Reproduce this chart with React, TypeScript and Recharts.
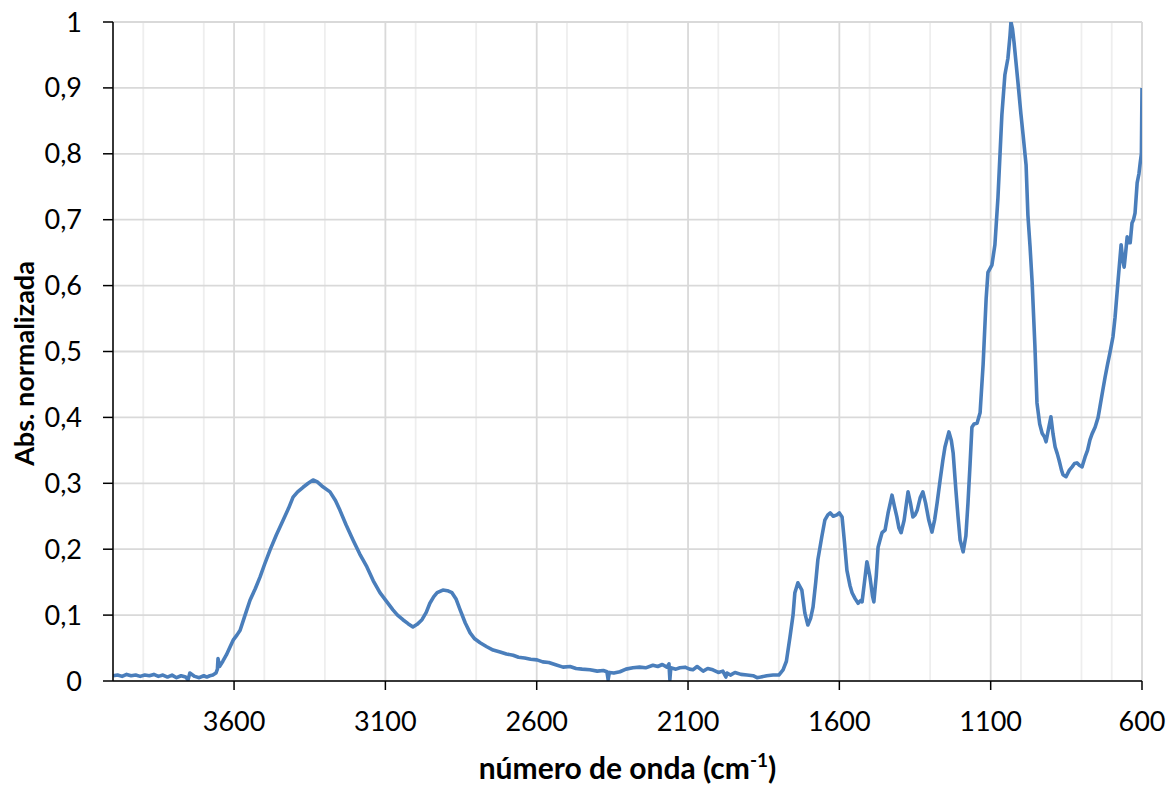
import React from 'react';
import { CartesianGrid, Label, Line, LineChart, XAxis, YAxis } from 'recharts';

// FTIR spectrum, wavenumber (cm-1) vs normalised absorbance
const wavenumbers = [
  4000, 3985, 3970, 3955, 3940, 3925, 3910, 3895, 3880, 3865, 3850, 3835, 3820, 3805, 3790, 3775,
  3760, 3752, 3746, 3730, 3715, 3700, 3690, 3680, 3670, 3660, 3655, 3653, 3648, 3637, 3625, 3613,
  3603, 3590, 3580, 3565, 3547, 3530, 3514, 3500, 3481, 3460, 3438, 3420, 3405, 3390, 3372, 3355,
  3339, 3325, 3310, 3283, 3265, 3250, 3230, 3207, 3185, 3161, 3140, 3118, 3095, 3075, 3060, 3042,
  3025, 3009, 2995, 2979, 2965, 2953, 2940, 2929, 2910, 2895, 2880, 2866, 2853, 2836, 2820, 2805,
  2787, 2765, 2744, 2721, 2700, 2678, 2660, 2640, 2620, 2599, 2580, 2560, 2540, 2513, 2490, 2470,
  2450, 2424, 2400, 2380, 2368, 2364, 2360, 2345, 2325, 2305, 2282, 2260, 2240, 2216, 2200, 2185,
  2170, 2163, 2160, 2157, 2140, 2127, 2110, 2095, 2084, 2070, 2050, 2035, 2018, 2000, 1985, 1975,
  1971, 1960, 1945, 1925, 1905, 1885, 1872, 1860, 1840, 1819, 1800, 1786, 1775, 1763, 1753, 1747,
  1737, 1724, 1714, 1704, 1695, 1687, 1678, 1671, 1658, 1648, 1638, 1630, 1620, 1608, 1600, 1591,
  1583, 1575, 1565, 1558, 1548, 1538, 1530, 1525, 1517, 1509, 1504, 1499, 1490, 1486, 1478, 1472,
  1465, 1459, 1449, 1439, 1426, 1418, 1410, 1403, 1396, 1386, 1373, 1365, 1357, 1350, 1343, 1333,
  1324, 1315, 1305, 1294, 1285, 1277, 1267, 1258, 1251, 1238, 1230, 1224, 1215, 1208, 1201, 1191,
  1182, 1175, 1168, 1162, 1155, 1145, 1135, 1125, 1115, 1109, 1096, 1086, 1076, 1063, 1053, 1043,
  1036, 1033, 1028, 1023, 1010, 1000, 993, 983, 977, 970, 963, 954, 947, 938, 930, 922,
  917, 910, 901, 894, 887, 880, 874, 866, 861, 851, 840, 831, 823, 815, 806, 798,
  788, 780, 772, 765, 755, 745, 739, 730, 722, 714, 706, 696, 689, 679, 669, 664,
  659, 654, 649, 644, 639, 633, 628, 623, 616, 610, 606, 602, 601, 600
];

const absorbance = [
  0.008, 0.009, 0.007, 0.010, 0.008, 0.009, 0.007, 0.009, 0.008, 0.010, 0.007, 0.009, 0.006, 0.009, 0.005, 0.008,
  0.006, 0.002, 0.012, 0.007, 0.005, 0.008, 0.006, 0.008, 0.009, 0.012, 0.018, 0.034, 0.022, 0.030, 0.040, 0.052,
  0.062, 0.070, 0.077, 0.098, 0.123, 0.140, 0.158, 0.176, 0.199, 0.222, 0.244, 0.262, 0.279, 0.287, 0.294, 0.300,
  0.305, 0.302, 0.296, 0.287, 0.274, 0.259, 0.237, 0.214, 0.193, 0.173, 0.152, 0.134, 0.120, 0.108, 0.100, 0.093,
  0.087, 0.082, 0.086, 0.093, 0.104, 0.118, 0.128, 0.134, 0.138, 0.137, 0.134, 0.124, 0.108, 0.088, 0.073, 0.064,
  0.058, 0.052, 0.047, 0.044, 0.041, 0.039, 0.036, 0.035, 0.033, 0.032, 0.029, 0.028, 0.025, 0.021, 0.022, 0.019,
  0.018, 0.017, 0.015, 0.016, 0.014, 0.002, 0.013, 0.012, 0.014, 0.018, 0.020, 0.021, 0.020, 0.024, 0.022, 0.025,
  0.021, 0.026, 0.002, 0.020, 0.018, 0.020, 0.021, 0.018, 0.017, 0.022, 0.015, 0.019, 0.017, 0.013, 0.015, 0.006,
  0.012, 0.009, 0.013, 0.010, 0.009, 0.008, 0.005, 0.006, 0.008, 0.009, 0.009, 0.017, 0.030, 0.067, 0.100, 0.134,
  0.149, 0.138, 0.103, 0.085, 0.095, 0.112, 0.150, 0.184, 0.219, 0.244, 0.252, 0.255, 0.250, 0.252, 0.255, 0.249,
  0.210, 0.168, 0.145, 0.134, 0.125, 0.118, 0.122, 0.120, 0.150, 0.181, 0.170, 0.158, 0.128, 0.120, 0.160, 0.203,
  0.215, 0.225, 0.229, 0.255, 0.282, 0.265, 0.249, 0.232, 0.225, 0.244, 0.287, 0.270, 0.249, 0.252, 0.259, 0.278,
  0.287, 0.270, 0.245, 0.226, 0.245, 0.270, 0.305, 0.335, 0.355, 0.378, 0.365, 0.346, 0.290, 0.250, 0.214, 0.196,
  0.220, 0.270, 0.330, 0.385, 0.390, 0.391, 0.407, 0.480, 0.580, 0.620, 0.631, 0.662, 0.733, 0.859, 0.920, 0.945,
  0.980, 1.000, 0.990, 0.970, 0.909, 0.860, 0.829, 0.783, 0.707, 0.660, 0.605, 0.510, 0.422, 0.390, 0.376, 0.370,
  0.363, 0.380, 0.401, 0.375, 0.355, 0.345, 0.335, 0.320, 0.313, 0.310, 0.320, 0.325, 0.330, 0.331, 0.327, 0.325,
  0.340, 0.350, 0.366, 0.375, 0.385, 0.400, 0.416, 0.440, 0.461, 0.480, 0.498, 0.522, 0.552, 0.608, 0.662, 0.640,
  0.628, 0.650, 0.674, 0.665, 0.665, 0.695, 0.700, 0.710, 0.756, 0.770, 0.786, 0.800, 0.850, 0.900
];

const xTicks = [600, 1100, 1600, 2100, 2600, 3100, 3600];
const xMinorTicks = [
  700, 800, 900, 1000, 1200, 1300, 1400, 1500, 1700, 1800, 1900, 2000, 2200, 2300, 2400, 2500,
  2700, 2800, 2900, 3000, 3200, 3300, 3400, 3500, 3700, 3800, 3900
];
const yTicks = [0, 0.1, 0.2, 0.3, 0.4, 0.5, 0.6, 0.7, 0.8, 0.9, 1];
const yMinorTicks = [
  0.02, 0.04, 0.06, 0.08, 0.12, 0.14, 0.16, 0.18, 0.22, 0.24, 0.26, 0.28, 0.32, 0.34, 0.36, 0.38,
  0.42, 0.44, 0.46, 0.48, 0.52, 0.54, 0.56, 0.58, 0.62, 0.64, 0.66, 0.68, 0.72, 0.74, 0.76, 0.78,
  0.82, 0.84, 0.86, 0.88, 0.92, 0.94, 0.96, 0.98
];

const data = wavenumbers.map((wn, i) => ({ wn, abs: absorbance[i] }));

const FONT = 'Lato, "Open Sans", sans-serif';
const tickStyle = { fontSize: 27, fill: '#000', fontFamily: FONT };

function App (): JSX.Element {
  return (
    <div style={{ position: 'absolute', left: 0, top: 0, width: 1175, height: 785, background: '#fff' }}>
      <LineChart
        data={data}
        height={785}
        margin={{ bottom: 0, left: 0, right: 33, top: 22 }}
        width={1175}
      >
        <XAxis dataKey='wn' domain={[600, 4000]} hide reversed ticks={xMinorTicks} type='number' xAxisId='minor' />
        <YAxis domain={[0, 1]} hide ticks={yMinorTicks} type='number' yAxisId='minor' />
        <CartesianGrid stroke='#eeeeee' strokeWidth={1.8} xAxisId='minor' yAxisId='minor' />
        <CartesianGrid stroke='#d9d9d9' strokeWidth={1.8} />
        <XAxis
          allowDataOverflow
          axisLine={{ stroke: '#000', strokeWidth: 1.5 }}
          dataKey='wn'
          domain={[600, 4000]}
          height={104}
          interval={0}
          reversed
          tick={tickStyle}
          tickLine={{ stroke: '#000', strokeWidth: 1.5 }}
          tickMargin={22}
          tickSize={9}
          ticks={xTicks}
          type='number'
        >
          <Label
            content={({ viewBox }: any) => (
              <text
                fill='#000'
                fontFamily={FONT}
                fontSize={30}
                fontWeight='bold'
                textAnchor='middle'
                x={viewBox.x + viewBox.width / 2}
                y={viewBox.y + 98}
              >
                número de onda (cm<tspan dy={-12} fontSize={19}>-1</tspan><tspan dy={12}>)</tspan>
              </text>
            )}
          />
        </XAxis>
        <YAxis
          allowDataOverflow
          axisLine={{ stroke: '#000', strokeWidth: 1.5 }}
          domain={[0, 1]}
          interval={0}
          tick={tickStyle}
          tickFormatter={(v: number) => String(v).replace('.', ',')}
          tickLine={{ stroke: '#000', strokeWidth: 1.5 }}
          tickMargin={21}
          tickSize={10}
          ticks={yTicks}
          type='number'
          width={113}
        >
          <Label
            content={({ viewBox }: any) => {
              const cx = 34;
              const cy = viewBox.y + viewBox.height / 2 + 12;
              return (
                <text
                  fill='#000'
                  fontFamily={FONT}
                  fontSize={27}
                  fontWeight='bold'
                  textAnchor='middle'
                  transform={`rotate(-90 ${cx} ${cy})`}
                  x={cx}
                  y={cy}
                >
                  Abs. normalizada
                </text>
              );
            }}
          />
        </YAxis>
        <Line
          dataKey='abs'
          dot={false}
          isAnimationActive={false}
          stroke='#4a7ebb'
          strokeLinejoin='round'
          strokeWidth={3.6}
          type='linear'
        />
      </LineChart>
    </div>
  );
}

export default App;
